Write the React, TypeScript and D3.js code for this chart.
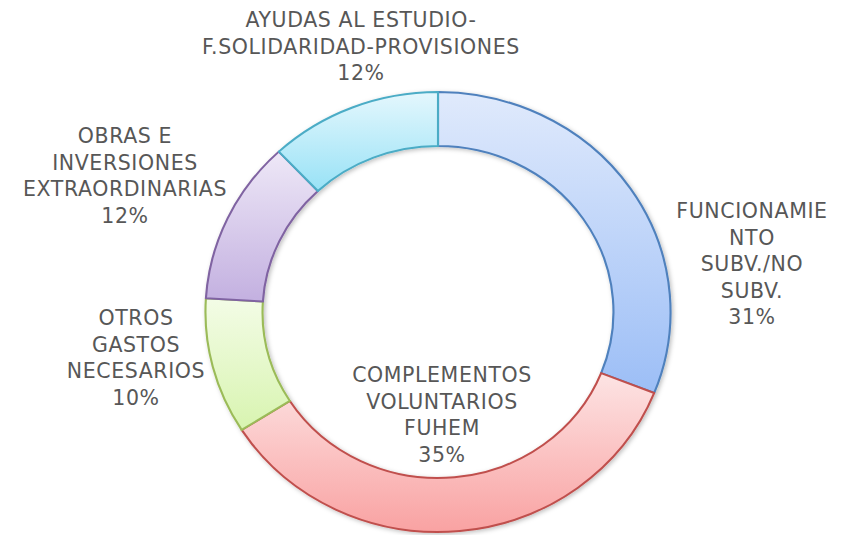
import * as d3 from "d3";
import React from "react";

// slices clockwise from 12 o'clock
const categories = [
  "FUNCIONAMIENTO SUBV./NO SUBV.",
  "COMPLEMENTOS VOLUNTARIOS FUHEM",
  "OTROS GASTOS NECESARIOS",
  "OBRAS E INVERSIONES EXTRAORDINARIAS",
  "AYUDAS AL ESTUDIO-F.SOLIDARIDAD-PROVISIONES",
];
const shares = [31, 35, 10, 12, 12];
const labelLines = [
  ["FUNCIONAMIE", "NTO", "SUBV./NO", "SUBV."],
  ["COMPLEMENTOS", "VOLUNTARIOS", "FUHEM"],
  ["OTROS", "GASTOS", "NECESARIOS"],
  ["OBRAS E", "INVERSIONES", "EXTRAORDINARIAS"],
  ["AYUDAS AL ESTUDIO-", "F.SOLIDARIDAD-PROVISIONES"],
];
const strokes = ["#4f81bd", "#c0504d", "#9bbb59", "#8064a2", "#4bacc6"];
const topFills = ["#e0eafc", "#fde4e4", "#f3fce6", "#eee8f7", "#e4f7fd"];
const bottomFills = ["#9cbef6", "#f9a2a2", "#d8f4b0", "#c3b0e0", "#98e2f6"];
// label anchor (centre x, first baseline y)
const labelPos = [
  [752, 218],
  [442, 382],
  [136, 325],
  [125, 143],
  [361, 27],
];

const W = 850;
const H = 535;
const cx = 438;
const cy = 312;
const stretch = 1.057;
const lineH = 26.5;

const App = () => {
  const ref = React.useRef(null);

  React.useEffect(() => {
    const svg = d3.select(ref.current);
    svg.selectAll("*").remove();

    const data = categories.map((c, i) => ({ name: c, value: shares[i], i }));
    const pie = d3.pie().sort(null).value(d => d.value).startAngle(0).endAngle(2 * Math.PI);
    const arc = d3.arc().innerRadius(166).outerRadius(220);

    const defs = svg.append("defs");
    data.forEach((d, i) => {
      const g = defs.append("linearGradient")
        .attr("id", "grad" + i)
        .attr("x1", 0).attr("y1", 0).attr("x2", 0).attr("y2", 1);
      g.append("stop").attr("offset", "0%").attr("stop-color", topFills[i]);
      g.append("stop").attr("offset", "100%").attr("stop-color", bottomFills[i]);
    });
    const f = defs.append("filter").attr("id", "shadow")
      .attr("x", "-10%").attr("y", "-10%").attr("width", "120%").attr("height", "120%");
    f.append("feDropShadow").attr("dx", 1.5).attr("dy", 1.5).attr("stdDeviation", 2)
      .attr("flood-color", "#000").attr("flood-opacity", 0.25);

    const ring = svg.append("g")
      .attr("transform", "translate(" + cx + "," + cy + ") scale(" + stretch + ",1)")
      .attr("filter", "url(#shadow)");

    ring.selectAll("path")
      .data(pie(data))
      .enter()
      .append("path")
      .attr("d", arc)
      .attr("fill", d => "url(#grad" + d.data.i + ")")
      .attr("stroke", d => strokes[d.data.i])
      .attr("stroke-width", 2)
      .attr("stroke-linejoin", "round");

    // labels
    const labels = svg.append("g")
      .attr("font-family", "'DejaVu Sans', sans-serif")
      .attr("font-size", 20.5)
      .attr("letter-spacing", 0.6)
      .attr("fill", "#575757")
      .attr("text-anchor", "middle");

    data.forEach((d, i) => {
      const lines = labelLines[i].concat([d.value + "%"]);
      const t = labels.append("text")
        .attr("x", labelPos[i][0])
        .attr("y", labelPos[i][1]);
      lines.forEach((l, j) => {
        t.append("tspan")
          .attr("x", labelPos[i][0])
          .attr("y", labelPos[i][1] + j * lineH)
          .text(l);
      });
    });
  }, []);

  return (
    <svg
      ref={ref}
      width={W}
      height={H}
      style={{ position: "absolute", left: 0, top: 0, background: "#ffffff" }}
    />
  );
};

export default App;
